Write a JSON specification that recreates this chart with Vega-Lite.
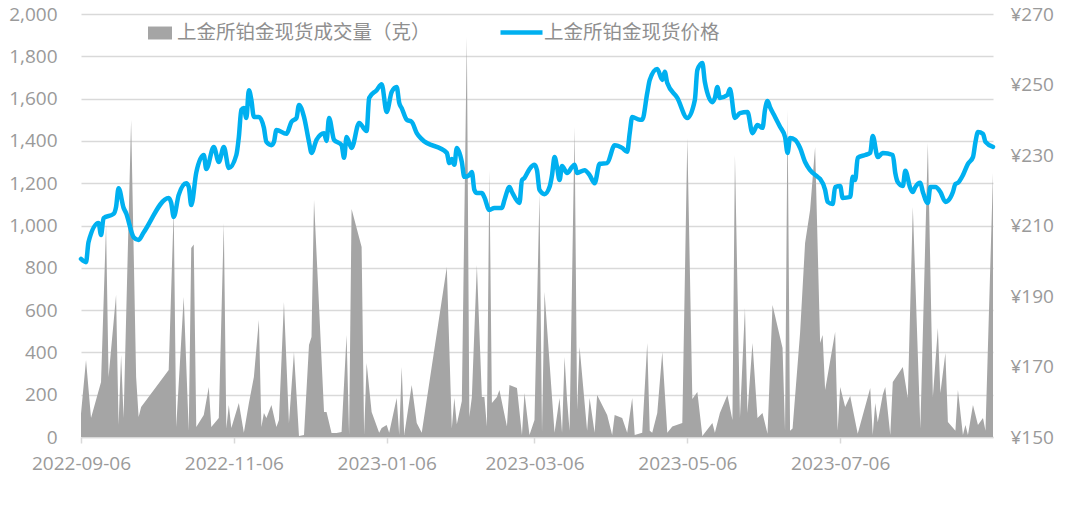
{
  "$schema": "https://vega.github.io/schema/vega-lite/v6.json",
  "width": 912,
  "height": 423,
  "autosize": "none",
  "padding": {"left": 81, "top": 14, "right": 73, "bottom": 68},
  "background": "white",
  "config": {
    "font": "Open Sans, Noto Sans CJK SC",
    "view": {"stroke": null},
    "axis": {"labelColor": "#9a9a9a", "labelFontSize": 19, "labelFont": "Open Sans, Noto Sans CJK SC"},
    "legend": {"labelColor": "#8f8f8f", "labelFontSize": 19.5, "labelFont": "Noto Sans CJK SC", "labelLimit": 500, "padding": 0, "offset": 0}
  },
  "datasets": {
    "vol": [
      {"date": "2022-09-06", "volume": 110}, {"date": "2022-09-08", "volume": 364}, {"date": "2022-09-10", "volume": 90},
      {"date": "2022-09-14", "volume": 260}, {"date": "2022-09-16", "volume": 1000}, {"date": "2022-09-17", "volume": 284},
      {"date": "2022-09-20", "volume": 671}, {"date": "2022-09-21", "volume": 57}, {"date": "2022-09-22", "volume": 388},
      {"date": "2022-09-23", "volume": 90}, {"date": "2022-09-26", "volume": 1499}, {"date": "2022-09-28", "volume": 284},
      {"date": "2022-09-29", "volume": 95}, {"date": "2022-09-30", "volume": 142}, {"date": "2022-10-11", "volume": 317},
      {"date": "2022-10-13", "volume": 1073}, {"date": "2022-10-14", "volume": 47}, {"date": "2022-10-17", "volume": 662},
      {"date": "2022-10-19", "volume": 30}, {"date": "2022-10-20", "volume": 894}, {"date": "2022-10-21", "volume": 910},
      {"date": "2022-10-22", "volume": 47}, {"date": "2022-10-25", "volume": 104}, {"date": "2022-10-27", "volume": 236},
      {"date": "2022-10-28", "volume": 47}, {"date": "2022-10-31", "volume": 90}, {"date": "2022-11-02", "volume": 1012},
      {"date": "2022-11-03", "volume": 40}, {"date": "2022-11-04", "volume": 151}, {"date": "2022-11-05", "volume": 43},
      {"date": "2022-11-08", "volume": 161}, {"date": "2022-11-10", "volume": 20}, {"date": "2022-11-12", "volume": 160},
      {"date": "2022-11-14", "volume": 284}, {"date": "2022-11-16", "volume": 553}, {"date": "2022-11-17", "volume": 47},
      {"date": "2022-11-18", "volume": 113}, {"date": "2022-11-19", "volume": 90}, {"date": "2022-11-21", "volume": 151},
      {"date": "2022-11-23", "volume": 47}, {"date": "2022-11-24", "volume": 80}, {"date": "2022-11-26", "volume": 638},
      {"date": "2022-11-28", "volume": 66}, {"date": "2022-11-30", "volume": 402}, {"date": "2022-12-02", "volume": 5},
      {"date": "2022-12-04", "volume": 10}, {"date": "2022-12-06", "volume": 435}, {"date": "2022-12-07", "volume": 473},
      {"date": "2022-12-08", "volume": 1120}, {"date": "2022-12-12", "volume": 118}, {"date": "2022-12-13", "volume": 118},
      {"date": "2022-12-15", "volume": 19}, {"date": "2022-12-17", "volume": 19}, {"date": "2022-12-19", "volume": 24},
      {"date": "2022-12-21", "volume": 482}, {"date": "2022-12-22", "volume": 10}, {"date": "2022-12-23", "volume": 1078},
      {"date": "2022-12-27", "volume": 898}, {"date": "2022-12-28", "volume": 10}, {"date": "2022-12-29", "volume": 350},
      {"date": "2022-12-31", "volume": 118}, {"date": "2023-01-03", "volume": 20}, {"date": "2023-01-04", "volume": 43},
      {"date": "2023-01-06", "volume": 57}, {"date": "2023-01-07", "volume": 20}, {"date": "2023-01-10", "volume": 184},
      {"date": "2023-01-11", "volume": 10}, {"date": "2023-01-12", "volume": 331}, {"date": "2023-01-13", "volume": 10},
      {"date": "2023-01-16", "volume": 246}, {"date": "2023-01-18", "volume": 66}, {"date": "2023-01-20", "volume": 20},
      {"date": "2023-01-30", "volume": 804}, {"date": "2023-02-01", "volume": 40}, {"date": "2023-02-02", "volume": 184},
      {"date": "2023-02-03", "volume": 60}, {"date": "2023-02-05", "volume": 170}, {"date": "2023-02-07", "volume": 1891},
      {"date": "2023-02-08", "volume": 95}, {"date": "2023-02-09", "volume": 189}, {"date": "2023-02-11", "volume": 813},
      {"date": "2023-02-13", "volume": 189}, {"date": "2023-02-14", "volume": 189}, {"date": "2023-02-15", "volume": 50},
      {"date": "2023-02-16", "volume": 1262}, {"date": "2023-02-17", "volume": 161}, {"date": "2023-02-19", "volume": 189},
      {"date": "2023-02-20", "volume": 222}, {"date": "2023-02-23", "volume": 50}, {"date": "2023-02-24", "volume": 246},
      {"date": "2023-02-27", "volume": 232}, {"date": "2023-03-01", "volume": 10}, {"date": "2023-03-02", "volume": 208},
      {"date": "2023-03-04", "volume": 10}, {"date": "2023-03-06", "volume": 80}, {"date": "2023-03-08", "volume": 1150},
      {"date": "2023-03-09", "volume": 20}, {"date": "2023-03-10", "volume": 686}, {"date": "2023-03-14", "volume": 20},
      {"date": "2023-03-16", "volume": 184}, {"date": "2023-03-17", "volume": 20}, {"date": "2023-03-18", "volume": 378},
      {"date": "2023-03-19", "volume": 175}, {"date": "2023-03-20", "volume": 30}, {"date": "2023-03-22", "volume": 1466},
      {"date": "2023-03-23", "volume": 128}, {"date": "2023-03-24", "volume": 425}, {"date": "2023-03-27", "volume": 30},
      {"date": "2023-03-28", "volume": 184}, {"date": "2023-03-30", "volume": 20}, {"date": "2023-03-31", "volume": 199},
      {"date": "2023-04-04", "volume": 104}, {"date": "2023-04-06", "volume": 10}, {"date": "2023-04-07", "volume": 104},
      {"date": "2023-04-10", "volume": 90}, {"date": "2023-04-12", "volume": 20}, {"date": "2023-04-14", "volume": 184},
      {"date": "2023-04-15", "volume": 10}, {"date": "2023-04-18", "volume": 20}, {"date": "2023-04-20", "volume": 444},
      {"date": "2023-04-21", "volume": 30}, {"date": "2023-04-22", "volume": 20}, {"date": "2023-04-24", "volume": 113},
      {"date": "2023-04-26", "volume": 402}, {"date": "2023-04-28", "volume": 20}, {"date": "2023-04-30", "volume": 50},
      {"date": "2023-05-04", "volume": 66}, {"date": "2023-05-06", "volume": 1414}, {"date": "2023-05-08", "volume": 180},
      {"date": "2023-05-10", "volume": 213}, {"date": "2023-05-12", "volume": 5}, {"date": "2023-05-16", "volume": 66},
      {"date": "2023-05-17", "volume": 20}, {"date": "2023-05-19", "volume": 113}, {"date": "2023-05-22", "volume": 199},
      {"date": "2023-05-24", "volume": 80}, {"date": "2023-05-25", "volume": 1333}, {"date": "2023-05-27", "volume": 90},
      {"date": "2023-05-29", "volume": 610}, {"date": "2023-05-30", "volume": 113}, {"date": "2023-06-01", "volume": 444},
      {"date": "2023-06-03", "volume": 90}, {"date": "2023-06-05", "volume": 113}, {"date": "2023-06-07", "volume": 15},
      {"date": "2023-06-09", "volume": 624}, {"date": "2023-06-13", "volume": 421}, {"date": "2023-06-14", "volume": 30},
      {"date": "2023-06-15", "volume": 1546}, {"date": "2023-06-16", "volume": 30}, {"date": "2023-06-17", "volume": 40},
      {"date": "2023-06-20", "volume": 492}, {"date": "2023-06-22", "volume": 917}, {"date": "2023-06-24", "volume": 1073},
      {"date": "2023-06-26", "volume": 1371}, {"date": "2023-06-28", "volume": 444}, {"date": "2023-06-29", "volume": 482},
      {"date": "2023-06-30", "volume": 222}, {"date": "2023-07-04", "volume": 496}, {"date": "2023-07-05", "volume": 30},
      {"date": "2023-07-06", "volume": 236}, {"date": "2023-07-08", "volume": 142}, {"date": "2023-07-10", "volume": 194},
      {"date": "2023-07-13", "volume": 15}, {"date": "2023-07-18", "volume": 232}, {"date": "2023-07-19", "volume": 10},
      {"date": "2023-07-20", "volume": 161}, {"date": "2023-07-21", "volume": 70}, {"date": "2023-07-23", "volume": 200},
      {"date": "2023-07-24", "volume": 236}, {"date": "2023-07-26", "volume": 10}, {"date": "2023-07-27", "volume": 260},
      {"date": "2023-07-31", "volume": 331}, {"date": "2023-08-02", "volume": 184}, {"date": "2023-08-04", "volume": 1087},
      {"date": "2023-08-07", "volume": 40}, {"date": "2023-08-10", "volume": 1390}, {"date": "2023-08-12", "volume": 189},
      {"date": "2023-08-14", "volume": 515}, {"date": "2023-08-15", "volume": 208}, {"date": "2023-08-17", "volume": 397},
      {"date": "2023-08-18", "volume": 71}, {"date": "2023-08-21", "volume": 30}, {"date": "2023-08-22", "volume": 222},
      {"date": "2023-08-24", "volume": 10}, {"date": "2023-08-25", "volume": 57}, {"date": "2023-08-26", "volume": 10},
      {"date": "2023-08-28", "volume": 151}, {"date": "2023-08-30", "volume": 57}, {"date": "2023-09-01", "volume": 90},
      {"date": "2023-09-02", "volume": 30}, {"date": "2023-09-05", "volume": 1248}
    ],
    "price": [
      {"date": "2022-09-06", "price": 200.5}, {"date": "2022-09-08", "price": 199.6}, {"date": "2022-09-09", "price": 205.3},
      {"date": "2022-09-13", "price": 210.7}, {"date": "2022-09-14", "price": 207.3}, {"date": "2022-09-15", "price": 212.1},
      {"date": "2022-09-19", "price": 213.3}, {"date": "2022-09-20", "price": 215.3}, {"date": "2022-09-21", "price": 220.6},
      {"date": "2022-09-23", "price": 215}, {"date": "2022-09-24", "price": 213.5}, {"date": "2022-09-27", "price": 206.7},
      {"date": "2022-09-29", "price": 205.9}, {"date": "2022-10-01", "price": 208}, {"date": "2022-10-11", "price": 217.8},
      {"date": "2022-10-12", "price": 216.4}, {"date": "2022-10-13", "price": 212.4}, {"date": "2022-10-15", "price": 218.7},
      {"date": "2022-10-18", "price": 222}, {"date": "2022-10-19", "price": 221}, {"date": "2022-10-20", "price": 215.8},
      {"date": "2022-10-22", "price": 225}, {"date": "2022-10-25", "price": 230}, {"date": "2022-10-26", "price": 226},
      {"date": "2022-10-29", "price": 232.3}, {"date": "2022-10-31", "price": 228}, {"date": "2022-11-02", "price": 232.3},
      {"date": "2022-11-04", "price": 226.3}, {"date": "2022-11-07", "price": 230}, {"date": "2022-11-08", "price": 235.1},
      {"date": "2022-11-09", "price": 242.8}, {"date": "2022-11-10", "price": 243.3}, {"date": "2022-11-11", "price": 240.5},
      {"date": "2022-11-12", "price": 248.4}, {"date": "2022-11-13", "price": 245.6}, {"date": "2022-11-14", "price": 240.8},
      {"date": "2022-11-16", "price": 240.8}, {"date": "2022-11-18", "price": 237.7}, {"date": "2022-11-19", "price": 233.7},
      {"date": "2022-11-21", "price": 232.8}, {"date": "2022-11-22", "price": 233.7}, {"date": "2022-11-23", "price": 237.1},
      {"date": "2022-11-27", "price": 236}, {"date": "2022-11-29", "price": 239.4}, {"date": "2022-12-01", "price": 240.5},
      {"date": "2022-12-02", "price": 244.2}, {"date": "2022-12-04", "price": 240.8}, {"date": "2022-12-06", "price": 233.7},
      {"date": "2022-12-07", "price": 230.6}, {"date": "2022-12-09", "price": 234.3}, {"date": "2022-12-12", "price": 236.2},
      {"date": "2022-12-13", "price": 234}, {"date": "2022-12-14", "price": 240.5}, {"date": "2022-12-16", "price": 234.3},
      {"date": "2022-12-19", "price": 232.8}, {"date": "2022-12-20", "price": 229.2}, {"date": "2022-12-21", "price": 235.1},
      {"date": "2022-12-23", "price": 232}, {"date": "2022-12-26", "price": 239.1}, {"date": "2022-12-29", "price": 236.8},
      {"date": "2022-12-30", "price": 246.2}, {"date": "2023-01-02", "price": 248.4}, {"date": "2023-01-04", "price": 250.1},
      {"date": "2023-01-06", "price": 242.2}, {"date": "2023-01-08", "price": 247.9}, {"date": "2023-01-10", "price": 249.3},
      {"date": "2023-01-11", "price": 244.8}, {"date": "2023-01-12", "price": 243.3}, {"date": "2023-01-14", "price": 240},
      {"date": "2023-01-16", "price": 239.4}, {"date": "2023-01-18", "price": 236.2}, {"date": "2023-01-20", "price": 234.5},
      {"date": "2023-01-30", "price": 230.6}, {"date": "2023-01-31", "price": 227.7}, {"date": "2023-02-01", "price": 228.9},
      {"date": "2023-02-02", "price": 227.2}, {"date": "2023-02-03", "price": 232}, {"date": "2023-02-05", "price": 228},
      {"date": "2023-02-06", "price": 223.8}, {"date": "2023-02-08", "price": 224.3}, {"date": "2023-02-09", "price": 225.2},
      {"date": "2023-02-10", "price": 220.1}, {"date": "2023-02-11", "price": 219.2}, {"date": "2023-02-13", "price": 219.2},
      {"date": "2023-02-14", "price": 218}, {"date": "2023-02-16", "price": 214.4}, {"date": "2023-02-18", "price": 215},
      {"date": "2023-02-21", "price": 215}, {"date": "2023-02-22", "price": 217.2}, {"date": "2023-02-24", "price": 220.9},
      {"date": "2023-02-25", "price": 219.5}, {"date": "2023-02-28", "price": 216.4}, {"date": "2023-03-01", "price": 222.9},
      {"date": "2023-03-02", "price": 223.5}, {"date": "2023-03-04", "price": 226}, {"date": "2023-03-06", "price": 227.2},
      {"date": "2023-03-07", "price": 225.7}, {"date": "2023-03-08", "price": 220.1}, {"date": "2023-03-10", "price": 218.9},
      {"date": "2023-03-12", "price": 220.9}, {"date": "2023-03-13", "price": 224.3}, {"date": "2023-03-14", "price": 229.4},
      {"date": "2023-03-15", "price": 226.6}, {"date": "2023-03-16", "price": 222.9}, {"date": "2023-03-17", "price": 226.9},
      {"date": "2023-03-19", "price": 224.9}, {"date": "2023-03-21", "price": 226.6}, {"date": "2023-03-22", "price": 227.2},
      {"date": "2023-03-23", "price": 224.9}, {"date": "2023-03-26", "price": 225.7}, {"date": "2023-03-28", "price": 224.3},
      {"date": "2023-03-30", "price": 222}, {"date": "2023-04-01", "price": 227.5}, {"date": "2023-04-04", "price": 227.7},
      {"date": "2023-04-07", "price": 232.8}, {"date": "2023-04-10", "price": 232}, {"date": "2023-04-12", "price": 230.9},
      {"date": "2023-04-13", "price": 236.2}, {"date": "2023-04-14", "price": 240.8}, {"date": "2023-04-17", "price": 240},
      {"date": "2023-04-18", "price": 240}, {"date": "2023-04-20", "price": 247.6}, {"date": "2023-04-21", "price": 251.3},
      {"date": "2023-04-24", "price": 254.4}, {"date": "2023-04-26", "price": 251.3}, {"date": "2023-04-27", "price": 253.6},
      {"date": "2023-04-28", "price": 250.4}, {"date": "2023-05-02", "price": 246.2}, {"date": "2023-05-06", "price": 240.5},
      {"date": "2023-05-09", "price": 245.6}, {"date": "2023-05-10", "price": 254.1}, {"date": "2023-05-12", "price": 256.1},
      {"date": "2023-05-13", "price": 250.7}, {"date": "2023-05-16", "price": 245}, {"date": "2023-05-17", "price": 246.2},
      {"date": "2023-05-18", "price": 249.3}, {"date": "2023-05-19", "price": 246.2}, {"date": "2023-05-22", "price": 247},
      {"date": "2023-05-23", "price": 248.7}, {"date": "2023-05-25", "price": 240.5}, {"date": "2023-05-27", "price": 241.9},
      {"date": "2023-05-30", "price": 242.2}, {"date": "2023-06-01", "price": 236.2}, {"date": "2023-06-03", "price": 238.5},
      {"date": "2023-06-05", "price": 237.7}, {"date": "2023-06-06", "price": 242.8}, {"date": "2023-06-07", "price": 245.3},
      {"date": "2023-06-08", "price": 243.6}, {"date": "2023-06-10", "price": 240.8}, {"date": "2023-06-12", "price": 238},
      {"date": "2023-06-14", "price": 235.1}, {"date": "2023-06-15", "price": 230.6}, {"date": "2023-06-16", "price": 234.8},
      {"date": "2023-06-18", "price": 234.3}, {"date": "2023-06-20", "price": 232}, {"date": "2023-06-22", "price": 228},
      {"date": "2023-06-24", "price": 225.7}, {"date": "2023-06-27", "price": 223.8}, {"date": "2023-06-28", "price": 223.2},
      {"date": "2023-06-30", "price": 220.1}, {"date": "2023-07-01", "price": 216.7}, {"date": "2023-07-03", "price": 216.1},
      {"date": "2023-07-04", "price": 220.9}, {"date": "2023-07-06", "price": 221.2}, {"date": "2023-07-07", "price": 217.8},
      {"date": "2023-07-10", "price": 218.1}, {"date": "2023-07-11", "price": 223.8}, {"date": "2023-07-12", "price": 222.9},
      {"date": "2023-07-13", "price": 229.2}, {"date": "2023-07-16", "price": 230}, {"date": "2023-07-18", "price": 230.6},
      {"date": "2023-07-19", "price": 235.4}, {"date": "2023-07-21", "price": 229.4}, {"date": "2023-07-23", "price": 230.6},
      {"date": "2023-07-27", "price": 230}, {"date": "2023-07-28", "price": 224.9}, {"date": "2023-07-29", "price": 222.3},
      {"date": "2023-07-31", "price": 221.2}, {"date": "2023-08-01", "price": 225.5}, {"date": "2023-08-03", "price": 220.6},
      {"date": "2023-08-04", "price": 219.5}, {"date": "2023-08-05", "price": 220.9}, {"date": "2023-08-07", "price": 222.1},
      {"date": "2023-08-08", "price": 219.5}, {"date": "2023-08-10", "price": 216.4}, {"date": "2023-08-11", "price": 220.9},
      {"date": "2023-08-13", "price": 220.9}, {"date": "2023-08-15", "price": 219.5}, {"date": "2023-08-17", "price": 216.7},
      {"date": "2023-08-18", "price": 217}, {"date": "2023-08-20", "price": 219.5}, {"date": "2023-08-21", "price": 221.8},
      {"date": "2023-08-22", "price": 222.1}, {"date": "2023-08-24", "price": 224.3}, {"date": "2023-08-26", "price": 227.5},
      {"date": "2023-08-28", "price": 229.4}, {"date": "2023-08-29", "price": 233.7}, {"date": "2023-08-30", "price": 236.5},
      {"date": "2023-09-01", "price": 236}, {"date": "2023-09-02", "price": 233.7}, {"date": "2023-09-05", "price": 232.3}
    ]
  },
  "encoding": {
    "x": {
      "field": "date",
      "type": "temporal",
      "title": null,
      "scale": {
        "type": "utc",
        "domain": [
          {"year": 2022, "month": 9, "date": 6, "utc": true},
          {"year": 2023, "month": 9, "date": 5, "utc": true}
        ]
      },
      "axis": {
        "values": [
          {"year": 2022, "month": 9, "date": 6, "utc": true},
          {"year": 2022, "month": 11, "date": 6, "utc": true},
          {"year": 2023, "month": 1, "date": 6, "utc": true},
          {"year": 2023, "month": 3, "date": 6, "utc": true},
          {"year": 2023, "month": 5, "date": 6, "utc": true},
          {"year": 2023, "month": 7, "date": 6, "utc": true}
        ],
        "format": "%Y-%m-%d",
        "grid": false,
        "domainColor": "#d9d9d9",
        "domainWidth": 1.5,
        "tickColor": "#d9d9d9",
        "tickWidth": 1.5,
        "tickSize": 6,
        "labelPadding": 11,
        "labelOverlap": false,
        "labelFlush": false
      }
    }
  },
  "layer": [
    {
      "data": {"name": "vol"},
      "mark": {"type": "area", "interpolate": "linear", "opacity": 1},
      "encoding": {
        "y": {
          "field": "volume",
          "type": "quantitative",
          "title": null,
          "scale": {"domain": [0, 2000], "nice": false},
          "axis": {
            "orient": "left",
            "values": [0, 200, 400, 600, 800, 1000, 1200, 1400, 1600, 1800, 2000],
            "format": ",.0f",
            "domain": false,
            "ticks": false,
            "tickSize": 0,
            "labelPadding": 24,
            "gridColor": "#d9d9d9",
            "gridWidth": 1.5
          }
        },
        "fill": {
          "datum": "上金所铂金现货成交量（克）",
          "scale": {"range": ["#a5a5a5"]},
          "legend": {
            "title": null,
            "orient": "none",
            "legendX": 67,
            "legendY": 7,
            "symbolType": "M-1,-0.54L1,-0.54L1,0.54L-1,0.54Z",
            "symbolSize": 576,
            "symbolStrokeWidth": 0,
            "symbolOpacity": 1,
            "labelOffset": 5
          }
        }
      }
    },
    {
      "data": {"name": "price"},
      "mark": {"type": "line", "interpolate": "monotone", "strokeWidth": 4.5, "strokeCap": "round", "strokeJoin": "round"},
      "encoding": {
        "y": {
          "field": "price",
          "type": "quantitative",
          "title": null,
          "scale": {"domain": [150, 270], "nice": false, "zero": false},
          "axis": {
            "orient": "right",
            "values": [150, 170, 190, 210, 230, 250, 270],
            "labelExpr": "'¥' + datum.label",
            "grid": false,
            "domain": false,
            "ticks": false,
            "tickSize": 0,
            "labelPadding": 17
          }
        },
        "stroke": {
          "datum": "上金所铂金现货价格",
          "scale": {"range": ["#00b0f0"]},
          "legend": {
            "title": null,
            "orient": "none",
            "legendX": 417,
            "legendY": -5,
            "symbolType": "stroke",
            "symbolSize": 1764,
            "symbolStrokeWidth": 4.5,
            "labelOffset": -1
          }
        }
      }
    }
  ],
  "resolve": {"scale": {"y": "independent", "fill": "independent", "stroke": "independent"}}
}
